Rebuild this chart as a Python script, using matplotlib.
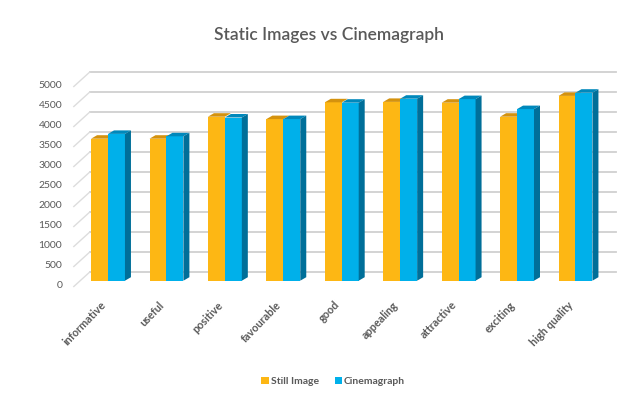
import matplotlib
matplotlib.use("Agg")
import matplotlib.pyplot as plt
import matplotlib.transforms as mtransforms
from matplotlib.patches import Polygon, Patch
import numpy as np

plt.rcParams['font.family'] = ['Lato', 'DejaVu Sans']

categories = ["informative", "useful", "positive", "favourable", "good",
              "appealing", "attractive", "exciting", "high quality"]
still_image = [3550, 3550, 4100, 4040, 4460, 4470, 4450, 4100, 4620]
cinemagraph = [3670, 3610, 4080, 4040, 4450, 4550, 4540, 4290, 4700]
yticks = [0, 500, 1000, 1500, 2000, 2500, 3000, 3500, 4000, 4500, 5000]

C_OR = "#FDB714"; C_OR_TOP = "#D4920E"
C_CY = "#00B0EA"; C_CY_TOP = "#0088BB"; C_CY_SIDE = "#006F99"
GRID = "#D0D0D0"; TXT = "#595959"

W, H = 636, 400
fig = plt.figure(figsize=(W / 100, H / 100), dpi=100)
ax_l, ax_r, ax_b, ax_t = 78.8, 604.7, 284, 84
ax = fig.add_axes([ax_l / W, (H - ax_b) / H, (ax_r - ax_l) / W, (ax_b - ax_t) / H])
ax.set_xlim(-0.5, len(categories) - 0.5)
ax.set_ylim(0, 5000)
for s in ax.spines.values():
    s.set_visible(False)

# pixel -> data conversions
px_x = (len(categories)) / (ax_r - ax_l)
px_y = 5000 / (ax_b - ax_t)

# back wall gridlines and side-wall diagonals
back = mtransforms.offset_copy(ax.transData, fig=fig, x=11, y=12, units='dots')
for t in yticks:
    ax.plot([-0.5, len(categories) - 0.5], [t, t], color=GRID, lw=1.3,
            transform=back, zorder=0, clip_on=False)
    ax.plot([-0.5 - 5 * px_x, -0.5 + 11 * px_x], [t - 2.5 * px_y, t + 12 * px_y],
            color="#DDDDDD", lw=1.0, zorder=0, clip_on=False)

# bars (front faces slightly behind the front plane)
bar_tr = mtransforms.offset_copy(ax.transData, fig=fig, x=0, y=3.3, units='dots')
x = np.arange(len(categories))
bw = 0.29
dx, dy = 6 * px_x, 3.5 * px_y

def draw_bar(x0, v, front, top, side, z):
    ax.add_patch(Polygon([(x0, 0), (x0 + bw, 0), (x0 + bw, v), (x0, v)],
                         closed=True, facecolor=front, edgecolor='none',
                         transform=bar_tr, zorder=z))
    ax.add_patch(Polygon([(x0, v), (x0 + bw, v), (x0 + bw + dx, v + dy), (x0 + dx, v + dy)],
                         closed=True, facecolor=top, edgecolor='none',
                         transform=bar_tr, zorder=z))
    if side is not None:
        ax.add_patch(Polygon([(x0 + bw, 0), (x0 + bw + dx, dy), (x0 + bw + dx, v + dy), (x0 + bw, v)],
                             closed=True, facecolor=side, edgecolor='none',
                             transform=bar_tr, zorder=z))

for i in range(len(categories)):
    draw_bar(x[i] - bw, still_image[i], C_OR, C_OR_TOP, None, 2)
    draw_bar(x[i], cinemagraph[i], C_CY, C_CY_TOP, C_CY_SIDE, 3)

ax.set_yticks(yticks)
ax.set_yticklabels([str(t) for t in yticks], fontsize=7.5, color=TXT)
ax.set_xticks(x)
ax.set_xticklabels(categories, rotation=46, ha='right', fontsize=7.8,
                   color=TXT, fontweight='bold')
ax.tick_params(axis='y', length=0, pad=12)
ax.tick_params(axis='x', length=0, pad=11)

fig.text(0.518, 1 - 35 / H, "Static Images vs Cinemagraph", ha='center', va='center',
         fontsize=12.5, color=TXT, fontweight='semibold')

handles = [Patch(facecolor=C_OR, edgecolor='none'), Patch(facecolor=C_CY, edgecolor='none')]
fig.legend(handles, ["Still Image", "Cinemagraph"], loc='center',
           bbox_to_anchor=(0.524, 1 - 381.5 / H), ncol=2, frameon=False,
           handlelength=0.7, handleheight=0.7, handletextpad=0.2,
           columnspacing=1.5, labelcolor=TXT, prop={'weight': 'bold', 'size': 7.5})

fig.savefig("out.png", dpi=100)
